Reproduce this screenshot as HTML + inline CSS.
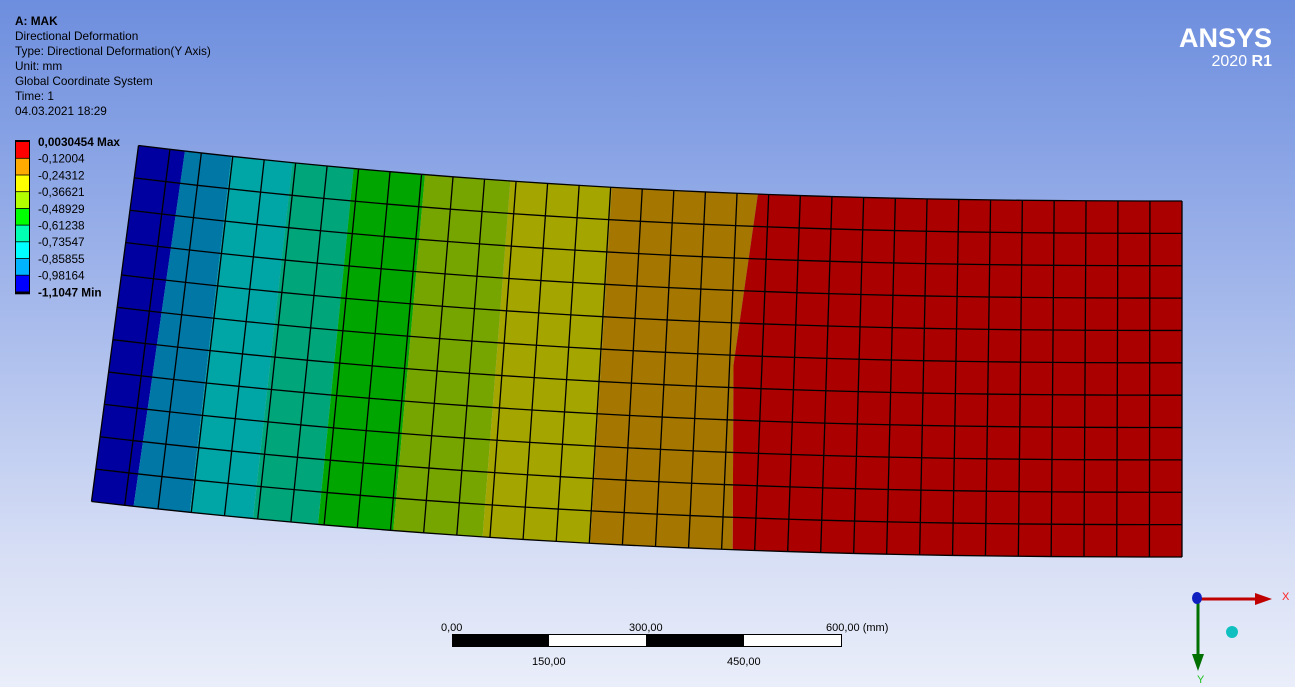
<!DOCTYPE html>
<html><head><meta charset="utf-8"><style>
html,body{margin:0;padding:0}
body{width:1295px;height:687px;overflow:hidden;background:linear-gradient(#6d8ede 0%,#9fb4ea 40%,#d6def5 80%,#eaeefa 100%);font-family:"Liberation Sans",sans-serif;position:relative}
.info{position:absolute;left:15px;top:14px;font-size:11.8px;line-height:15px;color:#000}
</style></head><body>
<div class="info">
<div style="font-weight:bold">A: MAK</div>
<div>Directional Deformation</div>
<div>Type: Directional Deformation(Y Axis)</div>
<div>Unit: mm</div>
<div>Global Coordinate System</div>
<div>Time: 1</div>
<div>04.03.2021 18:29</div>
</div>
<svg id="chart" width="1295" height="687" style="position:absolute;left:0;top:0"></svg>
<script>
const legendValues=["0,0030454 Max","-0,12004","-0,24312","-0,36621","-0,48929","-0,61238","-0,73547","-0,85855","-0,98164","-1,1047 Min"];
const legendColors=["#ff0000","#ffaa00","#ffff00","#b3ff00","#00ff00","#00ffb3","#00ffff","#00b3ff","#0000ff"];
const bandColors=["#0000a0","#0077a5","#00a5a5","#00a57a","#00a500","#77a500","#a5a500","#a57700","#aa0000"];
const bandTopX=[180,228,290,352,424,510,612,765];
const bandBotX=[128,186,250,316,392,482,590,738];
const bandBulge=[0,0,0,0,0,0,0,18];
(function(){
const NS="http://www.w3.org/2000/svg";
const svg=document.getElementById('chart');
function mk(t,a,p){const e=document.createElementNS(NS,t);for(const k in a)e.setAttribute(k,a[k]);(p||svg).appendChild(e);return e;}
const N=33,M=11;
function node(i,j){const u=i/N,v=j/M,s=1-u;const f=Math.pow(s,2.3),gg=Math.pow(s,1.3);
 const xc=1182-s*1067;return [xc-47*gg*(v-0.5),201+v*356-55.5*f];}
let pts=[];for(let i=0;i<=N;i++)pts.push(node(i,0));for(let j=0;j<=M;j++)pts.push(node(N,j));
for(let i=N;i>=0;i--)pts.push(node(i,M));for(let j=M;j>=0;j--)pts.push(node(0,j));
const ptsStr=pts.map(p=>p[0].toFixed(1)+','+p[1].toFixed(1)).join(' ');
const defs=mk('defs',{});const cp=mk('clipPath',{id:'beam'},defs);mk('polygon',{points:ptsStr},cp);
const bg=mk('g',{'clip-path':'url(#beam)'});


function bnd(k){const yt=100,yb=620;
 const x1=bandTopX[k],y1=185,x2=bandBotX[k],y2=545;const sl=(x2-x1)/(y2-y1);
 return [[x1+(yt-y1)*sl,yt],[(x1+x2)/2-bandBulge[k],(y1+y2)/2],[x1+(yb-y1)*sl,yb]];}
for(let b=0;b<bandColors.length;b++){
 const L=b===0?[[0,100],[0,365],[0,620]]:bnd(b-1);
 const R=b===bandColors.length-1?[[1300,100],[1300,365],[1300,620]]:bnd(b);
 const poly=[...L,...R.slice().reverse()];
 const el=mk('polygon',{points:poly.map(p=>p.join(',')).join(' '),fill:bandColors[b]},bg);
 
 
}
const mesh=mk('g',{stroke:'#000','stroke-width':1.3,fill:'none'});


for(let j=0;j<=M;j++){let p=[];for(let i=0;i<=N;i++)p.push(node(i,j));mk('polyline',{points:p.map(q=>q.join(',')).join(' ')},mesh);}
for(let i=0;i<=N;i++){let p=[];for(let j=0;j<=M;j++)p.push(node(i,j));mk('polyline',{points:p.map(q=>q.join(',')).join(' ')},mesh);}
const lg=mk('g',{});


const legTop=142,h=16.7;
mk('rect',{x:15,y:legTop-2,width:15,height:h*9+4,fill:'#000'},lg);
legendColors.forEach((c,k)=>{const r=mk('rect',{x:16,y:legTop+k*h,width:13,height:h-0.8,fill:c},lg);
 
 });
legendValues.forEach((t,k)=>{const b=k===0||k===legendValues.length-1;
 const e=mk('text',{x:38,y:legTop+k*h+4,'font-size':11.8,'font-weight':b?'bold':'normal','font-family':'Liberation Sans, sans-serif'},lg);
 e.textContent=t;
 
 });
})();
</script>
<div style="position:absolute;left:1172px;top:22px;width:100px;text-align:right;color:#fff">
<div style="font-size:27px;font-weight:bold;line-height:32px">ANSYS</div>
<div style="font-size:16px;line-height:16px">2020 <b>R1</b></div></div>
<svg width="1295" height="687" style="position:absolute;left:0;top:0">
<rect x="452.5" y="634.5" width="389" height="12" fill="#fff" stroke="#000"/>
<rect x="452" y="634" width="97" height="13" fill="#000"/>
<rect x="646" y="634" width="98" height="13" fill="#000"/>
<g font-family="Liberation Sans, sans-serif" font-size="11" fill="#000">
<text x="441" y="631">0,00</text><text x="629" y="631">300,00</text><text x="826" y="631">600,00 (mm)</text>
<text x="532" y="665">150,00</text><text x="727" y="665">450,00</text></g>
</svg>
<svg width="1295" height="687" style="position:absolute;left:0;top:0">
<line x1="1198" y1="599" x2="1260" y2="599" stroke="#c00000" stroke-width="3"/>
<polygon points="1255,593 1272,599 1255,605" fill="#c00000"/>
<text x="1282" y="600" font-size="11" fill="#ff2020" font-family="Liberation Sans, sans-serif">X</text>
<line x1="1198" y1="599" x2="1198" y2="658" stroke="#007000" stroke-width="3"/>
<polygon points="1192,654 1198,671 1204,654" fill="#007000"/>
<text x="1197" y="683" font-size="11" fill="#20c020" font-family="Liberation Sans, sans-serif">Y</text>
<ellipse cx="1197" cy="598" rx="5" ry="6" fill="#1020c0"/>
<ellipse cx="1232" cy="632" rx="6" ry="6" fill="#10c0c0"/>
</svg>
</body></html>
